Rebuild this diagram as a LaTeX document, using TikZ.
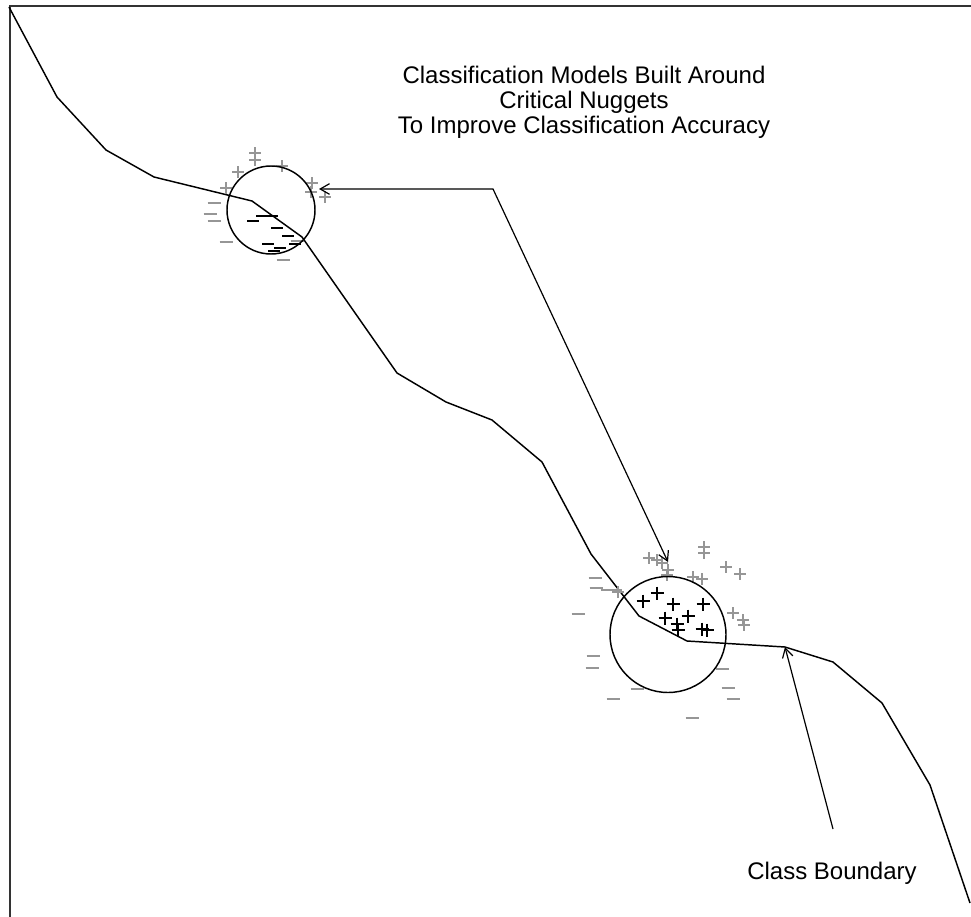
\documentclass[tikz,border=0pt]{standalone}
\usepackage{fontspec}
\setmainfont{Liberation Sans}
\usetikzlibrary{arrows.meta}
\definecolor{mgray}{RGB}{150,150,150}
\tikzset{
  boundary/.style={line width=1.1pt, line join=miter},
  nugget/.style={circle, draw, line width=1.1pt, inner sep=0pt},
  pointer/.style={line width=0.9pt, -{Straight Barb[length=7pt,width=8pt,line width=0.9pt]}},
  dpointer/.style={line width=0.9pt, {Straight Barb[length=7pt,width=8pt,line width=0.9pt]}-{Straight Barb[length=7pt,width=8pt,line width=0.9pt]}},
  lbl/.style={font=\fontsize{18}{18.75}\selectfont, align=center, inner sep=0pt},
  gplus/.pic={\draw[mgray, line width=1.7pt] (-6,0)--(6,0) (0,-6)--(0,6);},
  gminus/.pic={\draw[mgray, line width=1.6pt] (-6.5,0)--(6.5,0);},
  bplus/.pic={\draw[black, line width=2pt] (-6.5,0)--(6.5,0) (0,-6.5)--(0,6.5);},
  bminus/.pic={\draw[black, line width=1.7pt] (-6,0)--(6,0);},
}
\begin{document}
\begin{tikzpicture}[x=0.75pt, y=-0.75pt]
\useasboundingbox (0,0) rectangle (971,917);
% frame
\draw[line width=1.5pt, black!80] (9.5,917) -- (9.5,6.5) -- (971,6.5);

% class boundary
\draw[boundary] (9,7) -- (57,97) -- (106,150) -- (154,177) -- (252,201) -- (302,237)
  -- (397,373) -- (446,402) -- (492,420) -- (542,462) -- (591,554) -- (639,616)
  -- (687,641) -- (785,647) -- (833,662) -- (882,703) -- (930,785) -- (970,903);

% top nugget marks
\foreach \p in {(255,153),(255,160),(282,166),(238,172),(226,188),(312,183),(311,192),(325,197)}
  \pic at \p {gplus};
\foreach \p in {(214,203),(210,214),(214,221),(226,242),(283,260),(297,241)}
  \pic at \p {gminus};
\foreach \p in {(262,216),(272,216),(253,221),(277,228),(288,236),(268,244),(295,244),(280,248),(274,251)}
  \pic at \p {bminus};

% bottom nugget marks
\foreach \p in {(704,547),(704,553),(649,558),(657,560),(662,563),(668,570),(667,575),(693,577),(702,579),(726,567),(740,574),(733,613),(743,620),(744,625),(618,592)}
  \pic at \p {gplus};
\foreach \p in {(595,578),(596,588),(607,590),(615,590),(578,614),(593,656),(592,668),(637,689),(613,699),(722,669),(728,688),(733,699),(692,718)}
  \pic at \p {gminus};
\foreach \p in {(643,601),(657,593),(673,604),(703,604),(665,618),(688,616),(677,624),(678,630),(702,629),(707,630)}
  \pic at \p {bplus};

% nuggets
\node[nugget, minimum size=66pt] (topnugget) at (271,210) {};
\node[nugget, minimum size=87pt] (botnugget) at (668,634.5) {};

% labels
\node[lbl] (title) at (584,102) {Classification Models Built Around\\Critical Nuggets\\To Improve Classification Accuracy};
\node[lbl] (cblabel) at (832,873) {Class Boundary};

% arrows
\coordinate (bend) at (493,189);
\coordinate (tipA) at (319,189);
\coordinate (startA) at (668,562);
\coordinate (startB) at (833,829);
\coordinate (tipB) at (785,647);
\draw[dpointer] (startA) -- (bend) -- (tipA);
\draw[pointer] (startB) -- (tipB);
\end{tikzpicture}
\end{document}
